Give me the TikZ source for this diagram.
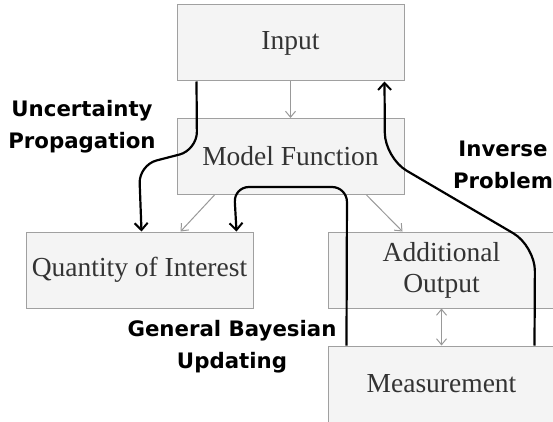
\documentclass[tikz,border=0pt]{standalone}
\usepackage{fontspec}
\setmainfont{Liberation Serif}
\newfontfamily\labelfont{DejaVu Sans}
\usetikzlibrary{arrows.meta}
\definecolor{boxfill}{HTML}{F4F4F4}
\definecolor{boxline}{HTML}{A0A0A0}
\definecolor{boxtext}{HTML}{333333}
\definecolor{thin}{HTML}{999999}
\tikzset{
  block/.style={draw=boxline, fill=boxfill, line width=1pt, rectangle,
    minimum width=227pt, minimum height=76pt, inner sep=0pt,
    text=boxtext, align=center, font=\fontsize{27.5}{31}\selectfont},
  tag/.style={align=center, font=\labelfont\bfseries\fontsize{21.3}{32}\selectfont},
  link/.style={draw=thin, line width=1pt, -{Straight Barb[length=6pt,width=10pt]}},
  dlink/.style={draw=thin, line width=1pt, {Straight Barb[length=6pt,width=10pt]}-{Straight Barb[length=6pt,width=10pt]}},
  flow/.style={draw=black, line width=2.2pt, -{Straight Barb[length=7pt,width=13pt,line width=2pt]}},
}
\begin{document}
\begin{tikzpicture}[x=1pt,y=-1pt]
  \useasboundingbox (0,0) rectangle (553,422);

  % boxes
  \node[block] (input) at (290.5,43) {Input};
  \node[block] (model) at (290.5,156.5) {Model Function};
  \node[block] (qoi)   at (139.5,270) {Quantity of Interest};
  \node[block] (add)   at (441.5,270) {Additional\\Output};
  \node[block] (meas)  at (441.5,384) {Measurement};

  % forward model relations
  \draw[link] (input.south) -- (model.north);
  \draw[link] ([xshift=38pt]model.south west) -- ([xshift=155pt]qoi.north west);
  \draw[link] ([xshift=190pt]model.south west) -- ([xshift=75pt]add.north west);
  \draw[dlink] ([xshift=114pt]add.south west) -- ([xshift=114pt]meas.north west);

  % analysis tasks
  \draw[flow, rounded corners=18pt] ([xshift=20pt]input.south west)
    -- (197,150) -- (139,165) -- ([xshift=116pt]qoi.north west);
  \draw[flow, rounded corners=15pt] ([xshift=19pt]meas.north west)
    -- (347,187) -- (234,187) -- ([xshift=211pt]qoi.north west);
  \draw[flow, rounded corners=25pt] ([xshift=207pt]meas.north west)
    -- (535,246) -- (385,158) -- ([xshift=208pt]input.south west);

  % labels
  \node[tag] (lup)  at (82,126.5) {Uncertainty\\Propagation};
  \node[tag] (linv) at (503,165) {Inverse\\Problem};
  \node[tag] (lbay) at (232,346.5) {General Bayesian\\Updating};
\end{tikzpicture}
\end{document}
